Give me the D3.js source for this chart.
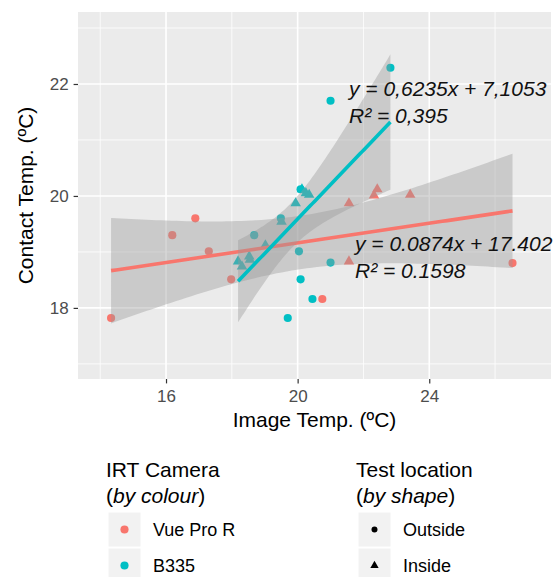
<!DOCTYPE html>
<html>
<head>
<meta charset="utf-8">
<script src="https://cdn.jsdelivr.net/npm/d3@7"></script>
<style>
    body { margin: 0; background: #fff; }
    text { font-family: "Liberation Sans", Arial, sans-serif; }
</style>
</head>
<body>
<div class="chart"></div>
<script>
// legend groups
const cameras = ["Vue Pro R", "B335"];
const locations = ["Outside", "Inside"];
const cameraColors = ["#F8766D", "#00BFC4"];

// Vue Pro R readings (image temp vs contact temp)
const vueImage   = [14.33, 16.19, 16.89, 17.30, 17.98, 20.75, 26.53, 21.56, 22.32, 22.42, 23.42, 21.56];
const vueContact = [17.82, 19.30, 19.60, 19.01, 18.51, 18.16, 18.80, 19.87, 20.01, 20.12, 20.02, 18.83];
const vueWhere   = ["Outside", "Outside", "Outside", "Outside", "Outside", "Outside", "Outside",
                    "Inside", "Inside", "Inside", "Inside", "Inside"];

// B335 readings
const b335Image   = [18.68, 19.49, 20.04, 20.09, 20.45, 19.70, 21.00, 20.09, 21.00, 22.82,
                     18.19, 18.31, 18.53, 18.55, 19.02, 19.51, 19.94, 20.13, 20.25, 20.35];
const b335Contact = [19.30, 19.60, 19.01, 18.51, 18.16, 17.82, 18.81, 20.12, 21.70, 22.29,
                     18.83, 18.74, 18.92, 18.86, 19.12, 19.54, 19.87, 20.12, 20.05, 20.02];
const b335Where   = ["Outside", "Outside", "Outside", "Outside", "Outside", "Outside", "Outside", "Outside", "Outside", "Outside",
                     "Inside", "Inside", "Inside", "Inside", "Inside", "Inside", "Inside", "Inside", "Inside", "Inside"];

const xTicks = [16, 20, 24];
const xMinor = [14, 18, 22, 26];
const yTicks = [18, 20, 22];
const yMinor = [17, 19, 21, 23];

const equationLabels = [
    ["y = 0,6235x + 7,1053", "R² = 0,395"],
    ["y = 0.0874x + 17.402", "R² = 0.1598"]
];

const w = 558;
const h = 577;
const panel = { left: 78, right: 551, top: 12, bottom: 379 };

const svg = d3.select(".chart")
    .append("svg")
    .attr("width", w)
    .attr("height", h);

const xScale = d3.scaleLinear()
    .domain([13.325, 27.70])
    .range([panel.left, panel.right]);

const yScale = d3.scaleLinear()
    .domain([16.73, 23.286])
    .range([panel.bottom, panel.top]);

// panel background + grid
svg.append("rect")
    .attr("x", panel.left)
    .attr("y", panel.top)
    .attr("width", panel.right - panel.left)
    .attr("height", panel.bottom - panel.top)
    .attr("fill", "#EBEBEB");

svg.selectAll(".minorX").data(xMinor).enter().append("line")
    .attr("x1", d => xScale(d)).attr("x2", d => xScale(d))
    .attr("y1", panel.top).attr("y2", panel.bottom)
    .attr("stroke", "#fff").attr("stroke-width", 0.8);
svg.selectAll(".minorY").data(yMinor).enter().append("line")
    .attr("y1", d => yScale(d)).attr("y2", d => yScale(d))
    .attr("x1", panel.left).attr("x2", panel.right)
    .attr("stroke", "#fff").attr("stroke-width", 0.8);
svg.selectAll(".majorX").data(xTicks).enter().append("line")
    .attr("x1", d => xScale(d)).attr("x2", d => xScale(d))
    .attr("y1", panel.top).attr("y2", panel.bottom)
    .attr("stroke", "#fff").attr("stroke-width", 1.6);
svg.selectAll(".majorY").data(yTicks).enter().append("line")
    .attr("y1", d => yScale(d)).attr("y2", d => yScale(d))
    .attr("x1", panel.left).attr("x2", panel.right)
    .attr("stroke", "#fff").attr("stroke-width", 1.6);

// axes
const xAxis = d3.axisBottom(xScale).tickValues(xTicks).tickFormat(d3.format("d")).tickSize(4.4).tickPadding(6.5);
const yAxis = d3.axisLeft(yScale).tickValues(yTicks).tickFormat(d3.format("d")).tickSize(4.4).tickPadding(5);

const xAxisGroup = svg.append("g")
    .attr("transform", `translate(0,${panel.bottom})`)
    .call(xAxis);
const yAxisGroup = svg.append("g")
    .attr("transform", `translate(${panel.left},0)`)
    .call(yAxis);

[xAxisGroup, yAxisGroup].forEach(g => {
    g.select(".domain").remove();
    g.selectAll("line").attr("stroke", "#333").attr("stroke-width", 1.2);
    g.selectAll("text")
        .attr("fill", "#4D4D4D")
        .style("font-size", "17px")
        .style("font-family", "'Liberation Sans', Arial, sans-serif");
});

svg.append("text")
    .text("Image Temp. (ºC)")
    .attr("x", (panel.left + panel.right) / 2)
    .attr("y", 427)
    .attr("text-anchor", "middle")
    .attr("font-size", "21px");

svg.append("text")
    .text("Contact Temp. (ºC)")
    .attr("text-anchor", "middle")
    .attr("font-size", "21px")
    .attr("transform", `translate(33,${(panel.top + panel.bottom) / 2}) rotate(-90)`);

// data rows
const groups = [
    { xs: vueImage, ys: vueContact, where: vueWhere },
    { xs: b335Image, ys: b335Contact, where: b335Where }
];

const shapeOf = d3.scaleOrdinal().domain(locations).range([d3.symbolCircle, d3.symbolTriangle]);
const sizeOf = d3.scaleOrdinal().domain(locations).range([52, 48]);

const plot = svg.append("g");

groups.forEach((g, gi) => {
    const rows = g.xs.map((x, i) => ({ x: x, y: g.ys[i], where: g.where[i] }));
    plot.selectAll(".pt" + gi)
        .data(rows)
        .enter()
        .append("path")
        .attr("d", d => d3.symbol().type(shapeOf(d.where)).size(sizeOf(d.where))())
        .attr("transform", d => `translate(${xScale(d.x)},${yScale(d.y)})`)
        .attr("fill", cameraColors[gi]);
});

// t quantile (0.975) via Cornish-Fisher expansion
function tQuantile(df) {
    const z = 1.959964;
    const z3 = z ** 3, z5 = z ** 5, z7 = z ** 7;
    return z + (z3 + z) / (4 * df)
        + (5 * z5 + 16 * z3 + 3 * z) / (96 * df * df)
        + (3 * z7 + 19 * z5 + 17 * z3 - 15 * z) / (384 * df ** 3);
}

// lm fit + 95% confidence band, like geom_smooth(method = "lm")
function lmFit(xs, ys) {
    const n = xs.length;
    const mx = d3.mean(xs);
    const my = d3.mean(ys);
    let sxx = 0, sxy = 0;
    xs.forEach((x, i) => { sxx += (x - mx) ** 2; sxy += (x - mx) * (ys[i] - my); });
    const slope = sxy / sxx;
    const icpt = my - slope * mx;
    let sse = 0;
    xs.forEach((x, i) => { sse += (ys[i] - (icpt + slope * x)) ** 2; });
    const s = Math.sqrt(sse / (n - 2));
    const t = tQuantile(n - 2);
    const [lo, hi] = d3.extent(xs);
    return d3.range(0, 81).map(k => {
        const x = lo + (hi - lo) * k / 80;
        const fit = icpt + slope * x;
        const se = s * Math.sqrt(1 / n + (x - mx) ** 2 / sxx);
        return { x: x, fit: fit, lower: fit - t * se, upper: fit + t * se };
    });
}

const band = d3.area()
    .x(d => xScale(d.x))
    .y0(d => yScale(d.lower))
    .y1(d => yScale(d.upper));

const fitLine = d3.line()
    .x(d => xScale(d.x))
    .y(d => yScale(d.fit));

groups.forEach((g, gi) => {
    const pred = lmFit(g.xs, g.ys);
    plot.append("path")
        .datum(pred)
        .attr("d", band)
        .attr("fill", "#999999")
        .attr("fill-opacity", 0.4);
    plot.append("path")
        .datum(pred)
        .attr("d", fitLine)
        .attr("fill", "none")
        .attr("stroke", cameraColors[gi])
        .attr("stroke-width", 3.6);
});

// equation labels
const labelPos = [[349, 96], [355, 251]];
equationLabels.forEach((lines, i) => {
    lines.forEach((txt, j) => {
        svg.append("text")
            .text(txt)
            .attr("x", labelPos[i][0])
            .attr("y", labelPos[i][1] + j * 26.5)
            .attr("font-size", "21px")
            .attr("font-style", "italic")
            .attr("fill", "#111");
    });
});

// legends
const legends = [
    { x: 106, title: "IRT Camera", sub: "by colour", items: cameras },
    { x: 356, title: "Test location", sub: "by shape", items: locations }
];

legends.forEach((lg, li) => {
    const gL = svg.append("g");
    gL.append("text")
        .text(lg.title)
        .attr("x", lg.x)
        .attr("y", 477)
        .attr("font-size", "21px");
    const sub = gL.append("text")
        .attr("x", lg.x)
        .attr("y", 503)
        .attr("font-size", "21px");
    sub.append("tspan").text("(");
    sub.append("tspan").text(lg.sub).attr("font-style", "italic");
    sub.append("tspan").text(")");

    lg.items.forEach((item, k) => {
        const top = 512 + k * 36;
        gL.append("rect")
            .attr("x", lg.x + 2)
            .attr("y", top)
            .attr("width", 33)
            .attr("height", 35)
            .attr("fill", "#F2F2F2")
            .attr("stroke", "#fff");
        const isCam = li === 0;
        gL.append("path")
            .attr("d", d3.symbol()
                .type(isCam ? d3.symbolCircle : shapeOf(item))
                .size(isCam ? 52 : (item === "Outside" ? 28 : 30))())
            .attr("transform", `translate(${lg.x + 18.5},${top + 17.5})`)
            .attr("fill", isCam ? cameraColors[k] : "#000");
        gL.append("text")
            .text(item)
            .attr("x", lg.x + 47)
            .attr("y", top + 24)
            .attr("font-size", "18px");
    });
});
</script>
</body>
</html>
